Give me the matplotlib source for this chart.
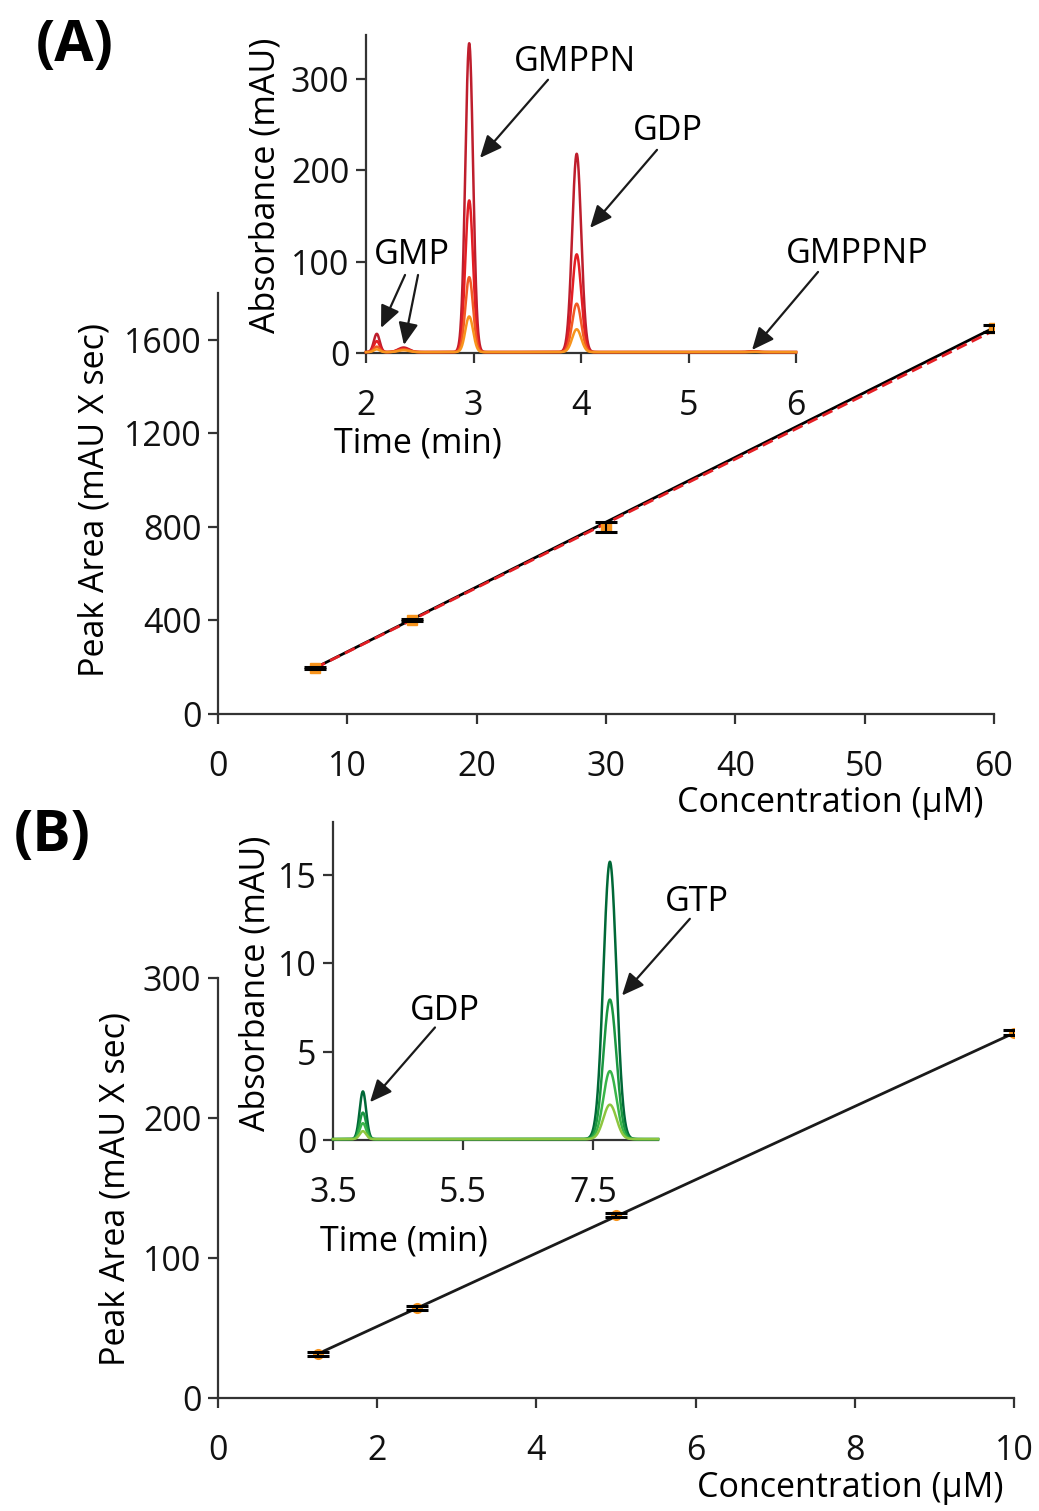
import numpy as np
import matplotlib
matplotlib.use("Agg")
import matplotlib.pyplot as plt

plt.rcParams['font.family'] = ['Open Sans', 'DejaVu Sans']

# ---------------- data ----------------
a_conc = [7.5, 15, 30, 60]
a_area = [197, 402, 800, 1650]
a_err = [6, 6, 22, 15]
a_fit_black = (27.71, -10.9)   # slope, intercept
a_fit_red = (27.50, -10.0)

b_conc = [1.25, 2.5, 5, 10]
b_area = [31.5, 64.5, 130.5, 261]
b_err = [1.5, 1.5, 1.5, 2.0]
b_fit = (26.2, -1.3)

# inset A chromatogram peaks (GMP, GMP2, GMPPN, GDP, GMPPNP)
a_peak_times = [2.10, 2.35, 2.96, 3.96, 5.60]
a_peak_widths = [0.027, 0.05, 0.036, 0.042, 0.04]
a_peak_heights = [
    [20, 5, 338, 217, 1.0],
    [12, 4, 166, 107, 0.6],
    [6, 3, 82, 53, 0.4],
    [3, 2, 39, 25, 0.3],
]
a_colors = ['#be1e2d', '#e31e24', '#f15a24', '#f7941d']

# inset B chromatogram peaks (GDP, GTP)
b_peak_times = [3.96, 7.76]
b_peak_widths = [0.05, 0.10]
b_peak_heights = [
    [2.7, 15.7],
    [1.5, 7.9],
    [0.9, 3.85],
    [0.45, 1.95],
]
b_colors = ['#006837', '#1a9641', '#39b54a', '#8dc63f']

a_xticks = [0, 10, 20, 30, 40, 50, 60]
a_yticks = [0, 400, 800, 1200, 1600]
ai_xticks = [2, 3, 4, 5, 6]
ai_yticks = [0, 100, 200, 300]
b_xticks = [0, 2, 4, 6, 8, 10]
b_yticks = [0, 100, 200, 300]
bi_xticks = [3.5, 5.5, 7.5]
bi_yticks = [0, 5, 10, 15]

# ---------------- layout ----------------
W, H = 1039, 1511
fig = plt.figure(figsize=(W / 100, H / 100), dpi=100)


def rect(l, t, r, b):
    return [l / W, 1 - b / H, (r - l) / W, (b - t) / H]


def fxy(px, py):
    return (px / W, 1 - py / H)


SPINE = '#333333'
FS = 24.5


def style(ax, xpad=19, ypad=5):
    for s in ['top', 'right']:
        ax.spines[s].set_visible(False)
    for s in ['left', 'bottom']:
        ax.spines[s].set_color(SPINE)
        ax.spines[s].set_linewidth(1.6)
    ax.tick_params(axis='both', direction='out', length=7, width=1.6,
                   color=SPINE, labelsize=FS, labelcolor='#111111')
    ax.tick_params(axis='x', pad=xpad)
    ax.tick_params(axis='y', pad=ypad)


def gauss_trace(t, times, widths, heights):
    y = np.zeros_like(t)
    for t0, w, h in zip(times, widths, heights):
        y += h * np.exp(-0.5 * ((t - t0) / w) ** 2)
    return y


arrow_kw = dict(arrowstyle='-|>,head_length=0.9,head_width=0.4', color='#1a1a1a',
                lw=1.6, shrinkA=0, shrinkB=0, mutation_scale=15)

# ---------------- Panel A main ----------------
axA = fig.add_axes(rect(218, 293, 994, 714))
style(axA)
xa = np.array([a_conc[0], a_conc[-1]])
axA.plot(xa, a_fit_black[0] * xa + a_fit_black[1], color='black', lw=2.0, zorder=2)
axA.plot(xa, a_fit_red[0] * xa + a_fit_red[1], color='#e31e24', lw=2.0, ls=(0, (4, 2)), zorder=3)
axA.plot(a_conc, a_area, 's', color='#f7941d', ms=7, zorder=4)
axA.errorbar(a_conc, a_area, yerr=a_err, fmt='none', ecolor='black', elinewidth=1.5,
             capsize=8, capthick=2.2, zorder=5)
axA.set_xlim(0, 60)
axA.set_ylim(0, 1800)
axA.set_xticks(a_xticks)
axA.set_yticks(a_yticks)

# ---------------- Panel A inset ----------------
axAi = fig.add_axes(rect(366, 35, 796, 353))
axAi.set_facecolor('none')
style(axAi)
t = np.linspace(2, 6, 3000)
for hts, c in zip(a_peak_heights, a_colors):
    axAi.plot(t, gauss_trace(t, a_peak_times, a_peak_widths, hts) + 1.0, color=c, lw=1.8,
              zorder=3, clip_on=False)
axAi.set_xlim(2, 6)
axAi.set_ylim(0, 348)
axAi.set_xticks(ai_xticks)
axAi.set_yticks(ai_yticks)

# annotations inset A
axAi.text(3.944, 318.6, 'GMPPN', fontsize=FS, ha='center', va='center')
axAi.annotate('', xy=(3.060, 213.5), xytext=(3.693, 299), arrowprops=arrow_kw, annotation_clip=False)
axAi.text(4.809, 243, 'GDP', fontsize=FS, ha='center', va='center')
axAi.annotate('', xy=(4.084, 136.9), xytext=(4.707, 222.3), arrowprops=arrow_kw, annotation_clip=False)
axAi.text(2.428, 107.3, 'GMP', fontsize=FS, ha='center', va='center')
axAi.annotate('', xy=(2.14, 27.4), xytext=(2.363, 85.4), arrowprops=arrow_kw, annotation_clip=False)
axAi.annotate('', xy=(2.353, 8.8), xytext=(2.484, 85.4), arrowprops=arrow_kw, annotation_clip=False)
axAi.text(6.567, 108.4, 'GMPPNP', fontsize=FS, ha='center', va='center')
axAi.annotate('', xy=(5.591, 3.3), xytext=(6.205, 88.7), arrowprops=arrow_kw, annotation_clip=False)

# ---------------- Panel B main ----------------
axB = fig.add_axes(rect(218, 978, 1014, 1398))
style(axB)
xb = np.array([b_conc[0], b_conc[-1]])
axB.plot(xb, b_fit[0] * xb + b_fit[1], color='#1a1a1a', lw=2.0, zorder=2)
axB.plot(b_conc, b_area, 'o', color='#f7941d', ms=7, zorder=4)
axB.errorbar(b_conc, b_area, yerr=b_err, fmt='none', ecolor='black', elinewidth=1.5,
             capsize=8, capthick=2.2, zorder=5)
axB.set_xlim(0, 10)
axB.set_ylim(0, 300)
axB.set_xticks(b_xticks)
axB.set_yticks(b_yticks)

# ---------------- Panel B inset ----------------
axBi = fig.add_axes(rect(333, 822, 658, 1140))
axBi.set_facecolor('none')
style(axBi)
tb = np.linspace(3.5, 8.5, 3000)
for hts, c in zip(b_peak_heights, b_colors):
    axBi.plot(tb, gauss_trace(tb, b_peak_times, b_peak_widths, hts) + 0.05, color=c, lw=1.8,
              zorder=3, clip_on=False)
axBi.set_xlim(3.5, 8.5)
axBi.set_ylim(0, 18)
axBi.set_xticks(bi_xticks)
axBi.set_xticklabels(['3.5', '5.5', '7.5'])
axBi.set_yticks(bi_yticks)

axBi.text(9.1, 13.48, 'GTP', fontsize=FS, ha='center', va='center')
axBi.annotate('', xy=(7.946, 8.18), xytext=(8.99, 12.52), arrowprops=arrow_kw, annotation_clip=False)
axBi.text(5.223, 7.33, 'GDP', fontsize=FS, ha='center', va='center')
axBi.annotate('', xy=(4.069, 2.14), xytext=(5.069, 6.37), arrowprops=arrow_kw, annotation_clip=False)

# ---------------- labels ----------------
def ftext(px, py, s, **kw):
    x, y = fxy(px, py)
    fig.text(x, y, s, ha='center', va='center', **kw)


ftext(95, 500, 'Peak Area (mAU X sec)', fontsize=FS, rotation=90)
ftext(265, 185, 'Absorbance (mAU)', fontsize=FS, rotation=90)
ftext(418, 443, 'Time (min)', fontsize=FS)
ftext(830, 803, 'Concentration (μM)', fontsize=FS)
ftext(115, 1189, 'Peak Area (mAU X sec)', fontsize=FS, rotation=90)
ftext(255, 983, 'Absorbance (mAU)', fontsize=FS, rotation=90)
ftext(404, 1242, 'Time (min)', fontsize=FS)
ftext(850, 1488, 'Concentration (μM)', fontsize=FS)
ftext(75, 46, '(A)', fontsize=41, fontweight='bold')
ftext(52, 836, '(B)', fontsize=41, fontweight='bold')

fig.savefig('out.png', dpi=100)
